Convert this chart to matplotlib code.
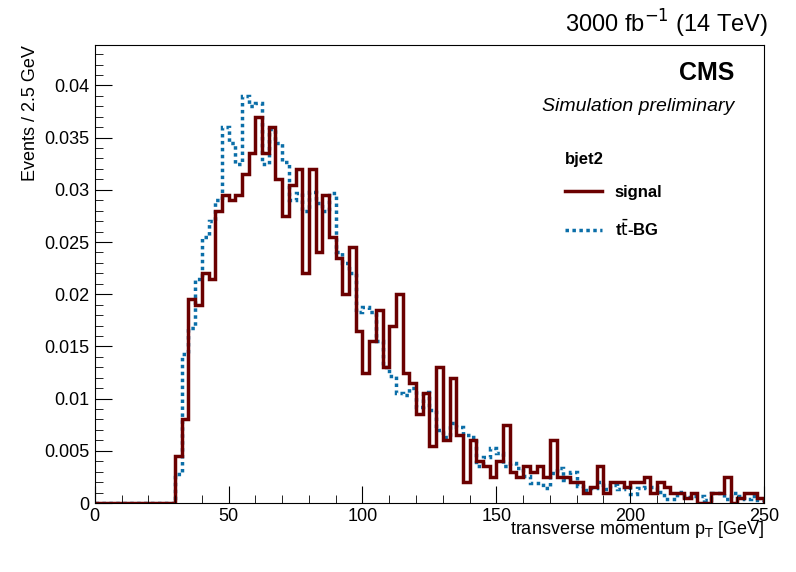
import numpy as np
import matplotlib
matplotlib.use('Agg')
import matplotlib.pyplot as plt
from matplotlib.ticker import MultipleLocator

plt.rcParams['font.family'] = ['Liberation Sans', 'DejaVu Sans']

# bins of 2.5 GeV, starting at 30 GeV (empty below)
binEdges = np.arange(0, 252.5, 2.5)

signal30 = [0.0045, 0.0080, 0.0195, 0.0190, 0.0220, 0.0215, 0.0280, 0.0295, 0.0290, 0.0295,
            0.0315, 0.0335, 0.0370, 0.0335, 0.0360, 0.0310, 0.0275, 0.0305, 0.0320, 0.0220,
            0.0320, 0.0240, 0.0295, 0.0255, 0.0235, 0.0200, 0.0245, 0.0165, 0.0125, 0.0155,
            0.0185, 0.0130, 0.0170, 0.0200, 0.0125, 0.0115, 0.0085, 0.0105, 0.0055, 0.0130,
            0.0060, 0.0120, 0.0065, 0.0020, 0.0060, 0.0040, 0.0035, 0.0025, 0.0040, 0.0075,
            0.0030, 0.0025, 0.0035, 0.0030, 0.0035, 0.0025, 0.0060, 0.0025, 0.0025, 0.0020,
            0.0020, 0.0010, 0.0015, 0.0035, 0.0010, 0.0020, 0.0020, 0.0015, 0.0020, 0.0020,
            0.0025, 0.0010, 0.0020, 0.0015, 0.0010, 0.0010, 0.0005, 0.0010, 0.0000, 0.0000,
            0.0010, 0.0010, 0.0025, 0.0000, 0.0005, 0.0010, 0.0010, 0.0005]

ttbar30 = [0.0028, 0.0143, 0.0168, 0.0215, 0.0255, 0.0270, 0.0290, 0.0360, 0.0345, 0.0325,
           0.0390, 0.0380, 0.0383, 0.0325, 0.0358, 0.0345, 0.0327, 0.0290, 0.0297, 0.0280,
           0.0298, 0.0287, 0.0280, 0.0297, 0.0240, 0.0230, 0.0220, 0.0183, 0.0188, 0.0183,
           0.0155, 0.0130, 0.0122, 0.0105, 0.0103, 0.0110, 0.0092, 0.0106, 0.0089, 0.0070,
           0.0063, 0.0077, 0.0073, 0.0065, 0.0063, 0.0035, 0.0044, 0.0053, 0.0048, 0.0035,
           0.0038, 0.0034, 0.0026, 0.0019, 0.0019, 0.0014, 0.0029, 0.0034, 0.0022, 0.0030,
           0.0016, 0.0012, 0.0014, 0.0020, 0.0013, 0.0017, 0.0013, 0.0015, 0.0009, 0.0014,
           0.0015, 0.0015, 0.0011, 0.0004, 0.0004, 0.0011, 0.0006, 0.0007, 0.0007, 0.0003,
           0.0010, 0.0010, 0.0004, 0.0010, 0.0007, 0.0004, 0.0007, 0.0003]

signal = np.array([0.0] * 12 + signal30)
ttbar = np.array([0.0] * 12 + ttbar30)

fig = plt.figure(figsize=(7.96, 5.72), dpi=100)
ax = fig.add_axes([0.119, 0.1206, 0.841, 0.8007])

ax.stairs(ttbar, binEdges, color='#0a6ea8', lw=2.5, ls=(0, (1, 1)), label=r't$\bar{\mathrm{t}}$-BG')
ax.stairs(signal, binEdges, color='#6b0000', lw=2.5, label='signal')

ax.set_xlim(0, 250)
ax.set_ylim(0, 0.04387)
ax.xaxis.set_major_locator(MultipleLocator(50))
ax.xaxis.set_minor_locator(MultipleLocator(10))
ax.yaxis.set_major_locator(MultipleLocator(0.005))
ax.yaxis.set_minor_locator(MultipleLocator(0.001))
ax.yaxis.set_major_formatter(matplotlib.ticker.FuncFormatter(lambda v, p: '0' if v == 0 else ('%g' % v)))
ax.tick_params(which='both', direction='in', labelsize=13, top=False, right=False)
ax.tick_params(which='major', length=12)
ax.tick_params(which='minor', length=6)

ax.set_xlabel(r'transverse momentum p$_\mathrm{T}$ [GeV]', fontsize=13, loc='right', labelpad=-4)
ax.set_ylabel('Events / 2.5 GeV', fontsize=13, loc='top')

fig.text(0.965, 0.93, r'3000 fb$^{-1}$ (14 TeV)', ha='right', va='bottom', fontsize=17)
ax.text(0.955, 0.965, 'CMS', transform=ax.transAxes, ha='right', va='top', fontsize=18, fontweight='bold')
ax.text(0.955, 0.885, 'Simulation preliminary', transform=ax.transAxes, ha='right', va='top', fontsize=14, style='italic')

handles, labels = ax.get_legend_handles_labels()
leg = ax.legend(handles[::-1], labels[::-1], title='bjet2', loc='upper left', bbox_to_anchor=(0.68, 0.80),
                frameon=False, prop={'weight': 'bold', 'size': 12}, handlelength=2.2, labelspacing=1.1)
leg.get_title().set_fontweight('bold')
leg.get_title().set_fontsize(12)
leg._legend_box.align = 'left'

fig.savefig('out.png', dpi=100)
